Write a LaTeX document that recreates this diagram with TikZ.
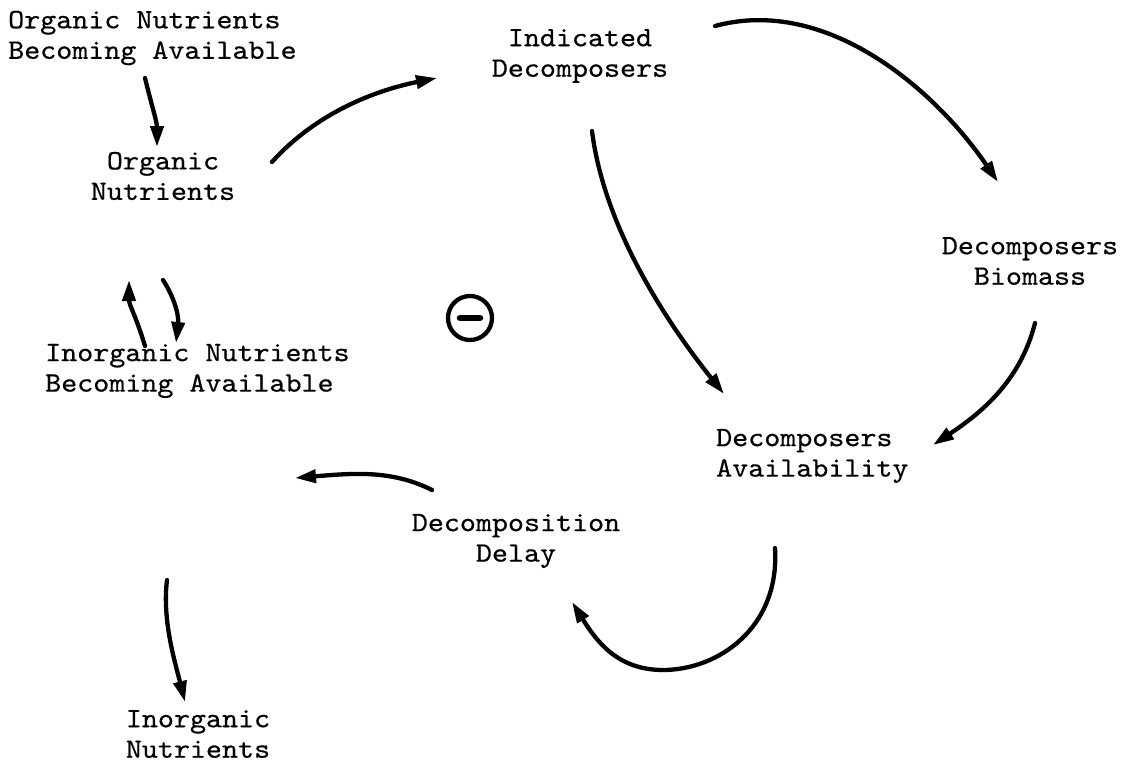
\documentclass[tikz,border=0pt]{standalone}
\usepackage{fontspec}
\newfontfamily\typewriter{lmmono10-regular.otf}[FakeStretch=1.09,FakeBold=0.5]
\usetikzlibrary{arrows.meta}
\begin{document}
\begin{tikzpicture}[x=1pt,y=-1pt,
  label/.style={font=\typewriter\fontsize{28}{30.5}\selectfont, inner sep=0pt, align=center},
  lefttext/.style={label, align=left, anchor=west},
  link/.style={line width=4.3pt, line cap=round, -{Triangle[length=21pt,width=13pt]}},
  signcircle/.style={circle, draw, line width=4.3pt, minimum size=44pt, inner sep=0pt}]
\useasboundingbox (0,0) rectangle (1125,763);
% variables
\node[lefttext] (onba) at (8,38) {Organic Nutrients\\Becoming Available};
\node[label] (indic) at (580,56) {Indicated\\Decomposers};
\node[label] (on) at (163,176) {Organic\\Nutrients};
\node[label] (bio) at (1030,261) {Decomposers\\Biomass};
\node[lefttext] (inba) at (45,371) {Inorganic Nutrients\\Becoming Available};
\node[lefttext] (avail) at (716,456) {Decomposers\\Availability};
\node[label] (delay) at (516,541) {Decomposition\\Delay};
\node[label] (inorg) at (198,734) {Inorganic\\Nutrients};
% loop polarity
\node[signcircle] (sign) at (470,318) {};
\draw[line width=6.5pt, line cap=round] ([xshift=-10]sign.center) -- ([xshift=10]sign.center);
% causal links
\draw[link] ([shift={(137,40)}]onba.west) .. controls +(6,25) and +(0,-25) .. ([shift={(-6,-29)}]on.center);
\draw[link] ([shift={(109,-14)}]on.center) .. controls +(45,-50) and +(-60,12) .. ([shift={(-143,22)}]indic.center);
\draw[link] ([shift={(135,-30)}]indic.center) .. controls +(110,-30) and +(-65,-95) .. ([shift={(-32,-79)}]bio.center);
\draw[link] ([shift={(12,75)}]indic.center) .. controls +(12,95) and +(-60,-75) .. ([shift={(8,-62)}]avail.west);
\draw[link] ([shift={(5,62)}]bio.center) .. controls +(-15,60) and +(45,-30) .. ([shift={(217,-11)}]avail.west);
\draw[link] ([shift={(59,92)}]avail.west) .. controls +(5,80) and +(55,0) .. ++(-112,122) .. controls +(-45,0) and +(25,40) .. ([shift={(56,61)}]delay.center);
\draw[link] ([shift={(-84,-51)}]delay.center) .. controls +(-40,-20) and +(60,-5) .. ([shift={(250,107)}]inba.west);
\draw[link] ([shift={(100,-25)}]inba.west) .. controls +(-9,-30) and +(0,25) .. ([shift={(-34,104)}]on.center);
\draw[link] ([shift={(0,104)}]on.center) .. controls +(11,17) and +(3,-28) .. ([shift={(131,-28)}]inba.west);
\draw[link] ([shift={(122,209)}]inba.west) .. controls +(-5,40) and +(-10,-40) .. ([shift={(-13,-32)}]inorg.center);
\end{tikzpicture}
\end{document}
